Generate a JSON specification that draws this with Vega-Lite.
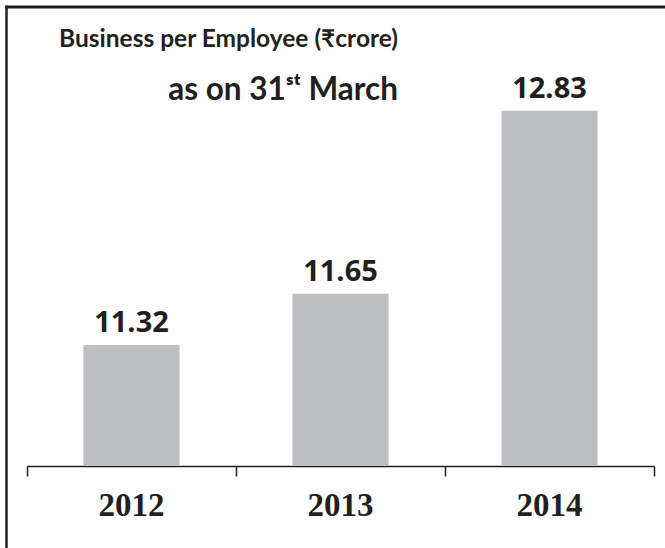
{
  "$schema": "https://vega.github.io/schema/vega-lite/v6.json",
  "width": 660,
  "height": 543,
  "autosize": {"type": "none"},
  "padding": {"left": 5, "top": 5, "right": 0, "bottom": 0},
  "background": "white",
  "config": {"view": {"stroke": null}},
  "title": {
    "text": "Business per Employee (₹crore)",
    "subtitle": "as on 31ˢᵗ March",
    "anchor": "start",
    "align": "right",
    "dx": 393,
    "dy": 121,
    "offset": 0,
    "font": "Lato",
    "fontSize": 24.5,
    "fontWeight": "bold",
    "color": "#231f20",
    "baseline": "alphabetic",
    "subtitleFont": "Lato",
    "subtitleFontSize": 31.5,
    "subtitleFontWeight": "bold",
    "subtitleColor": "#231f20",
    "subtitlePadding": 28
  },
  "data": {
    "values": [
      {"year": "2012", "value": 11.32},
      {"year": "2013", "value": 11.65},
      {"year": "2014", "value": 12.83}
    ]
  },
  "layer": [
    {
      "encoding": {
        "x": {
          "field": "year",
          "type": "nominal",
          "scale": {"range": [22, 649], "paddingInner": 0, "paddingOuter": 0},
          "axis": {
            "orient": "bottom",
            "offset": -82,
            "ticks": true,
            "bandPosition": 1,
            "tickExtra": true,
            "domainColor": "#231f20",
            "domainWidth": 1.5,
            "tickColor": "#231f20",
            "tickWidth": 1.5,
            "tickSize": 10,
            "tickOpacity": 1,
            "labelFont": "Liberation Serif",
            "labelFontWeight": "bold",
            "labelFontSize": 33,
            "labelColor": "#231f20",
            "labelPadding": 13,
            "labelAngle": 0,
            "title": null,
            "grid": false
          }
        },
        "y": {
          "field": "value",
          "type": "quantitative",
          "scale": {"domain": [10.01, 13.513], "zero": false, "nice": false},
          "axis": {
            "orient": "left",
            "offset": -1,
            "domain": true,
            "domainColor": "#231f20",
            "domainWidth": 2.5,
            "ticks": false,
            "labels": false,
            "grid": false,
            "title": null
          }
        }
      },
      "layer": [
        {
          "mark": {"type": "bar", "color": "#bcbec0", "width": {"band": 0.46}},
          "encoding": {"y2": {"datum": 10.539}}
        },
        {
          "mark": {
            "type": "text",
            "font": "Open Sans",
            "fontWeight": "bold",
            "fontSize": 29,
            "color": "#231f20",
            "baseline": "alphabetic",
            "dy": -13
          },
          "encoding": {"text": {"field": "value", "type": "quantitative", "format": ".2f"}}
        }
      ]
    },
    {
      "mark": {"type": "rule", "opacity": 0},
      "encoding": {
        "x": {
          "datum": 0,
          "type": "quantitative",
          "scale": {"domain": [0, 1]},
          "axis": {
            "orient": "top",
            "offset": -1.5,
            "domain": true,
            "domainColor": "#231f20",
            "domainWidth": 3,
            "ticks": false,
            "labels": false,
            "grid": false,
            "title": null
          }
        }
      }
    }
  ],
  "resolve": {"scale": {"x": "independent"}, "axis": {"x": "independent"}}
}
